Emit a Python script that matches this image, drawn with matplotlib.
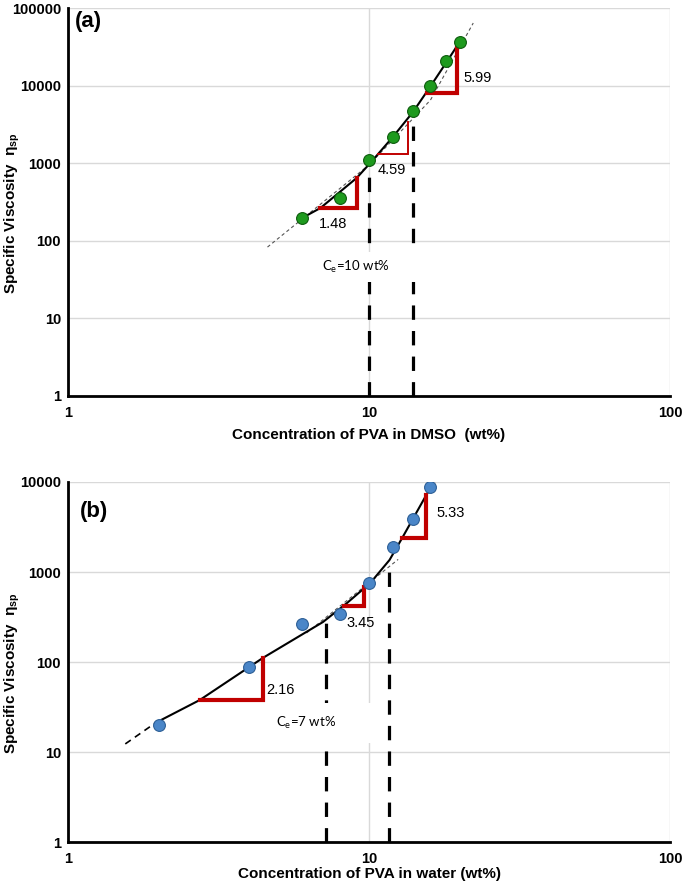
import matplotlib
matplotlib.use('Agg')
import matplotlib.pyplot as plt

plt.rcParams['font.family'] = ['Liberation Sans', 'DejaVu Sans']
plt.rcParams['mathtext.default'] = 'regular'

# ---------------- data: panel (a) PVA in DMSO ----------------
conc_dmso = [6, 8, 10, 12, 14, 16, 18, 20]
visc_dmso = [195, 360, 1100, 2150, 4700, 10000, 21000, 36000]
curve_dmso_x = [6.0, 6.9, 9.1, 10.1, 12.0, 14.0, 15.95, 18.2, 20.0]
curve_dmso_y = [197, 265, 645, 1007, 2177, 4570, 9600, 20750, 36500]
fit_dmso_x = [4.6, 10, 16, 22.2]
fit_dmso_y = [83, 950, 6500, 64000]
tri_dmso_x0 = [6.88, 10.7, 15.6]
tri_dmso_x1 = [9.12, 13.5, 19.6]
tri_dmso_ylo = [265, 1315, 8030]
tri_dmso_yhi = [645, 3400, 30500]
slope_dmso_labels = ['1.48', '4.59', '5.99']
slope_dmso_pos = [(7.6, 165), (11.9, 817), (23.0, 12500)]
vline_dmso_x = [10, 14]
vline_dmso_top = [1000, 4700]
ce_dmso_text = 'C$_e$=10 wt%'
ce_dmso_pos = (9.05, 46)

# ---------------- data: panel (b) PVA in water ----------------
conc_water = [2, 4, 6, 8, 10, 12, 14, 16]
visc_water = [20, 88, 265, 340, 750, 1900, 3900, 8800]
curve_water_x = [1.95, 2.74, 4.44, 7.03, 8.45, 10.1, 11.7, 12.9, 15.5, 16.1]
curve_water_y = [21, 37.8, 111, 278, 452, 755, 1360, 2400, 7170, 8800]
ext_water_x = [1.55, 1.95]
ext_water_y = [12.3, 21]
fit_water_mid_x = [6.2, 12.5]
fit_water_mid_y = [210, 1380]
fit_water_top_x = [16.1, 17.2]
fit_water_top_y = [8800, 12000]
tri_water_x0 = [2.745, 8.26, 12.9]
tri_water_x1 = [4.44, 9.62, 15.5]
tri_water_ylo = [37.8, 419, 2388]
tri_water_yhi = [111, 681, 7170]
slope_water_labels = ['2.16', '3.45', '5.33']
slope_water_pos = [(5.06, 49), (9.4, 271), (18.7, 4525)]
vline_water_x = [7.2, 11.65]
vline_water_top = [280, 1150]
ce_water_text = 'C$_e$=7 wt%'
ce_water_pos = (6.18, 21)

xticks = [1, 10, 100]
xtick_labels = ['1', '10', '100']
yticks_a = [1, 10, 100, 1000, 10000, 100000]
yticks_b = [1, 10, 100, 1000, 10000]

RED = '#c00000'
fig = plt.figure(figsize=(6.85, 8.84), dpi=100)
ax_a = fig.add_axes([68/685, 1-396/884, 602/685, 388/884])
ax_b = fig.add_axes([68/685, 1-842/884, 602/685, 360/884])


def style_axes(ax, yticks, ymax, xlabel, xlab_y, panel, panel_pos):
    ax.set_xscale('log')
    ax.set_yscale('log')
    ax.set_xlim(1, 100)
    ax.set_ylim(1, ymax)
    ax.set_xticks(xticks)
    ax.set_xticklabels(xtick_labels)
    ax.set_yticks(yticks)
    ax.set_yticklabels([str(v) for v in yticks])
    ax.minorticks_off()
    ax.tick_params(length=0, labelsize=10.5, pad=5)
    ax.tick_params(axis='x', pad=7)
    for lab in ax.get_xticklabels() + ax.get_yticklabels():
        lab.set_fontweight('bold')
    ax.grid(True, color='#d9d9d9', lw=1, zorder=0)
    ax.set_axisbelow(True)
    for s in ['top', 'right']:
        ax.spines[s].set_visible(False)
    for s in ['left', 'bottom']:
        ax.spines[s].set_linewidth(2)
        ax.spines[s].set_color('black')
        ax.spines[s].set_zorder(6)
    ax.set_xlabel(xlabel, fontsize=11, fontweight='bold', va='center')
    ax.xaxis.set_label_coords(0.5, xlab_y)
    ax.set_ylabel('Specific Viscosity  η$_{sp}$', fontsize=11, fontweight='bold', va='center')
    ax.yaxis.set_label_coords(-0.092, 0.47)
    ax.text(panel_pos[0], panel_pos[1], panel, transform=ax.transAxes,
            fontsize=16, fontweight='bold', ha='center', va='center')


# ---- panel (a)
ax = ax_a
ax.plot(fit_dmso_x, fit_dmso_y, color='#555555', lw=0.8, ls=(0, (3, 2.5)), zorder=2)
ax.plot(curve_dmso_x, curve_dmso_y, color='black', lw=1.5, zorder=4)
tri_lw_a = [3, 1.4, 3]
for x0, x1, ylo, yhi, lw in zip(tri_dmso_x0, tri_dmso_x1, tri_dmso_ylo, tri_dmso_yhi, tri_lw_a):
    ax.plot([x0, x1, x1], [ylo, ylo, yhi], color=RED, lw=lw, zorder=4,
            solid_joinstyle='miter')
for lab, (px, py) in zip(slope_dmso_labels, slope_dmso_pos):
    ax.text(px, py, lab, fontsize=10.5, ha='center', va='center', zorder=7)
for xv, top in zip(vline_dmso_x, vline_dmso_top):
    ax.plot([xv, xv], [1, top], color='black', lw=2.3, ls=(0, (4.5, 3.5)), zorder=2)
ax.plot(conc_dmso, visc_dmso, 'o', ms=8.5, mfc='#1e9a1e', mec='#0d5c0d', mew=0.8, zorder=5)
ax.text(ce_dmso_pos[0], ce_dmso_pos[1], ce_dmso_text, fontsize=9.5, family=['Lato', 'DejaVu Sans'],
        ha='center', va='center', zorder=3,
        bbox=dict(boxstyle='square,pad=2.0', fc='white', ec='none', mutation_aspect=0.28))
style_axes(ax, yticks_a, 100000, 'Concentration of PVA in DMSO  (wt%)', -0.1, '(a)', (0.034, 0.964))

# ---- panel (b)
ax = ax_b
ax.plot(ext_water_x, ext_water_y, color='black', lw=1.2, ls=(0, (4, 3)), zorder=2)
ax.plot(fit_water_mid_x, fit_water_mid_y, color='#555555', lw=0.8, ls=(0, (3, 2.5)), zorder=2)
ax.plot(fit_water_top_x, fit_water_top_y, color='#555555', lw=0.8, ls=(0, (3, 2.5)), zorder=2)
ax.plot(curve_water_x, curve_water_y, color='black', lw=1.5, zorder=4)
for x0, x1, ylo, yhi in zip(tri_water_x0, tri_water_x1, tri_water_ylo, tri_water_yhi):
    ax.plot([x0, x1, x1], [ylo, ylo, yhi], color=RED, lw=3, zorder=4,
            solid_joinstyle='miter')
for lab, (px, py) in zip(slope_water_labels, slope_water_pos):
    ax.text(px, py, lab, fontsize=10.5, ha='center', va='center', zorder=7)
vline_z_b = [2, 4]
for xv, top, z in zip(vline_water_x, vline_water_top, vline_z_b):
    ax.plot([xv, xv], [1, top], color='black', lw=2.3, ls=(0, (4.5, 3.5)), zorder=z)
ax.plot(conc_water, visc_water, 'o', ms=8.5, mfc='#4a86c8', mec='#2d5f96', mew=0.8, zorder=5)
ax.text(ce_water_pos[0], ce_water_pos[1], ce_water_text, fontsize=9.5, family=['Lato', 'DejaVu Sans'],
        ha='center', va='center', zorder=3,
        bbox=dict(boxstyle='square,pad=3.0', fc='white', ec='none', mutation_aspect=0.3))
style_axes(ax, yticks_b, 10000, 'Concentration of PVA in water (wt%)', -0.088, '(b)', (0.043, 0.917))

fig.savefig('out.png', dpi=100)
